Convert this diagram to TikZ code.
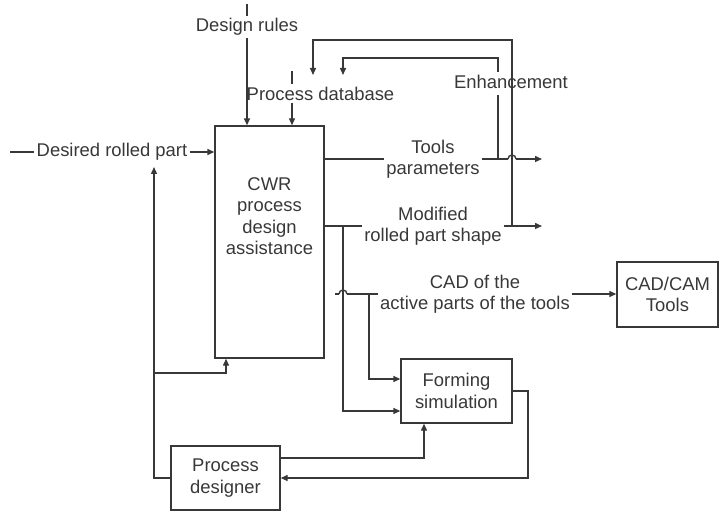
\documentclass[tikz,border=0pt]{standalone}
\usepackage{fontspec}
\setmainfont{Liberation Sans}
\usetikzlibrary{arrows.meta,calc}
\definecolor{ink}{gray}{0.22}
\begin{document}
\begin{tikzpicture}[>={Triangle[length=7bp,width=6bp]},x=1bp,y=-1bp,line width=1.4bp,color=ink,
	every node/.style={font=\fontsize{18.5}{21.5}\selectfont},
	lbl/.style={align=center,inner sep=2bp},
	box/.style={draw,line width=1.4bp,align=center,inner sep=2bp},
	hop/.style={line cap=butt}]
		\useasboundingbox (0,0) rectangle (719,512);
		\node[box,minimum width=109bp,minimum height=232bp,label={[lbl,yshift=26bp]center:CWR\\process\\design\\assistance}] (cwr) at (269.5,242) {};
		\node[box,minimum width=101bp,minimum height=65bp] (cadcam) at (667.5,294.5) {CAD/CAM\\Tools};
		\node[box,minimum width=111bp,minimum height=64bp] (forming) at (456.5,391) {Forming\\simulation};
		\node[box,minimum width=109bp,minimum height=64bp] (designer) at (225.5,478) {Process\\designer};
		\node[lbl] (desired) at (112,152) {Desired rolled part};
		\node[lbl] (rules) at (247,27) {Design rules};
		\node[lbl] (db) at (320.5,93.5) {Process database};
		\node[lbl] (tools) at (433,159) {Tools\\parameters};
		\node[lbl] (modified) at (433,226) {Modified\\rolled part shape};
		\node[lbl] (cad) at (475,294) {CAD of the\\active parts of the tools};
		\coordinate (dstart) at (10,152);
		\coordinate (rtop) at (247,4);
		\coordinate (dtop) at (292,71);
		\coordinate (tj) at (498,159);
		\coordinate (ttop) at (343,58);
		\coordinate (tin) at (343,75);
		\coordinate (oj) at (512,226);
		\coordinate (otop) at (313,40);
		\coordinate (oin) at (313,75);
		\coordinate (tend) at (542,159);
		\coordinate (mend) at (542,226);
		\coordinate (mj) at (343,226);
		\coordinate (mb) at (343,411);
		\coordinate (cs) at (335,294);
		\coordinate (cj) at (369,294);
		\coordinate (cb) at (369,379);
		\coordinate (fo) at (528,391);
		\coordinate (lup) at (154,167);
		\coordinate (lb) at (154,373);
		\draw (dstart) -- (desired.west);
		\draw[->] (desired.east) -- (desired.east -| cwr.west);
		\draw (rtop) -- (rules.north);
		\draw[->] (rules.south) -- (rules.south |- cwr.north);
		\draw (dtop) -- (dtop |- db.north);
		\draw[->] (dtop |- db.south) -- (dtop |- cwr.north);
		\draw[->] (tj) |- (ttop) -- (tin);
		\node[lbl,fill=white,text depth=4bp,inner ysep=3bp] (enh) at (511,83.5) {Enhancement};
		\draw[->] (oj) |- (otop) -- (oin);
		\draw (cwr.east |- tools) -- (tools.west);
		\draw (tools.east) -- ($(oj |- tend)+(-4,0)$);
		\draw[hop] ($(oj |- tend)+(-4,0)$) arc[start angle=180,end angle=0,radius=4bp];
		\draw[->] ($(oj |- tend)+(4,0)$) -- (tend);
		\draw (cwr.east |- modified) -- (modified.west);
		\draw[->] (modified.east) -- (mend);
		\draw (cs) -- ($(mj |- cad)+(-4,0)$);
		\draw[hop] ($(mj |- cad)+(-4,0)$) arc[start angle=180,end angle=0,radius=4bp];
		\draw ($(mj |- cad)+(4,0)$) -- (cad.west);
		\draw[->] (cad.east) -- (cad.east -| cadcam.west);
		\draw[->] (mj) -- (mb) -- (mb -| forming.west);
		\draw[->] (cj) -- (cb) -- (cb -| forming.west);
		\draw[->] ([yshift=20bp]designer.east) -| ([xshift=-32.5bp]forming.south);
		\draw[->] (forming.east) -- (fo) |- (designer.east);
		\draw[->] (designer.west) -| (lup);
		\draw[->] (lb) -| ([xshift=-43.5bp]cwr.south);
		\end{tikzpicture}
\end{document}
